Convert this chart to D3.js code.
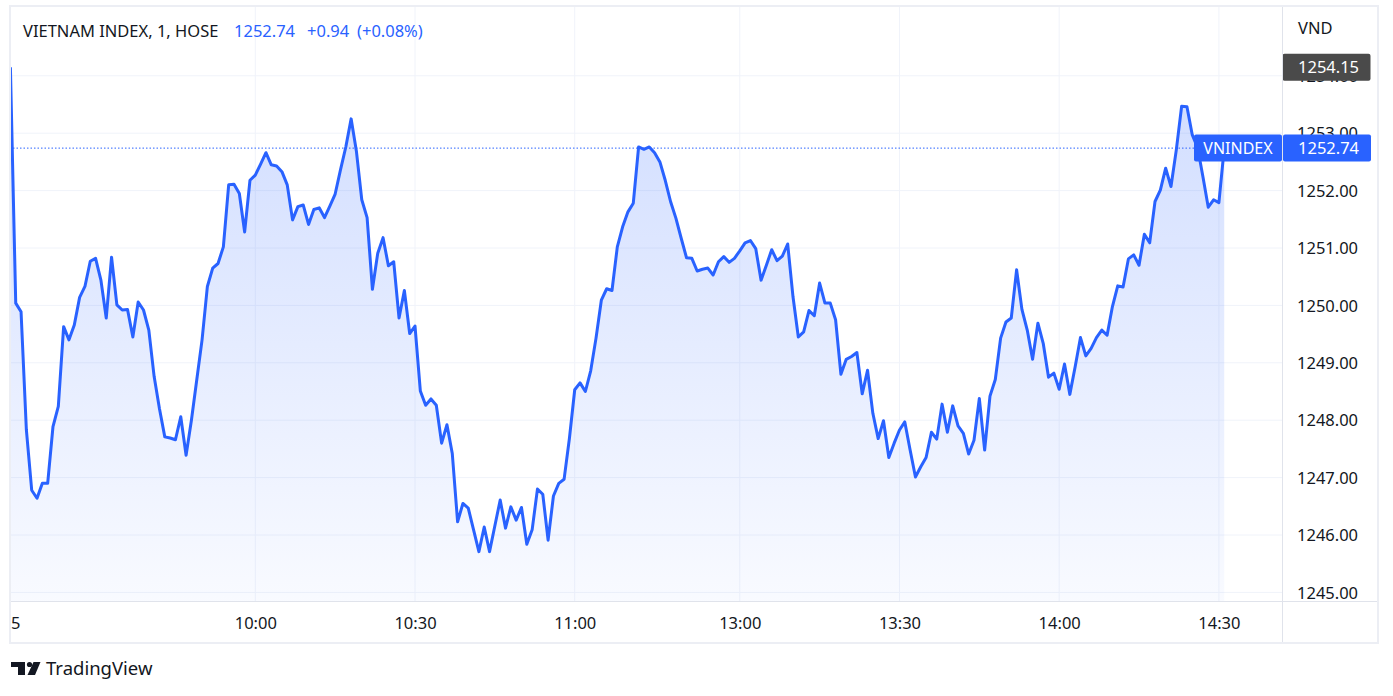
<!DOCTYPE html>
<html>
<head>
<meta charset="utf-8">
<script src="https://cdn.jsdelivr.net/npm/d3@7"></script>
<style>
  body { margin: 0; background: #fff; }
  svg text { font-family: "Noto Sans", Roboto, sans-serif; }
</style>
</head>
<body>
<div id="main"></div>
<script>
// one value per 1-minute bar, first bar is the session start
var values = [
  1254.15,
  1250.04, 1249.89, 1247.83, 1246.78, 1246.64, 1246.90, 1246.90, 1247.89, 1248.24, 1249.63,
  1249.40, 1249.66, 1250.14, 1250.33, 1250.77, 1250.82, 1250.44, 1249.78, 1250.84, 1250.01,
  1249.92, 1249.93, 1249.45, 1250.06, 1249.92, 1249.57, 1248.76, 1248.20, 1247.71, 1247.69,
  1247.66, 1248.06, 1247.39, 1248.00, 1248.70, 1249.40, 1250.33, 1250.65, 1250.73, 1251.02,
  1252.10, 1252.11, 1251.95, 1251.28, 1252.18, 1252.27, 1252.46, 1252.66, 1252.45, 1252.43,
  1252.33, 1252.10, 1251.49, 1251.72, 1251.75, 1251.41, 1251.67, 1251.70, 1251.53, 1251.73,
  1251.94, 1252.36, 1252.76, 1253.25, 1252.68, 1251.84, 1251.53, 1250.28, 1250.91, 1251.18,
  1250.69, 1250.76, 1249.78, 1250.26, 1249.51, 1249.64, 1248.51, 1248.26, 1248.37, 1248.26,
  1247.60, 1247.92, 1247.42, 1246.23, 1246.55, 1246.47, 1246.09, 1245.71, 1246.14, 1245.71,
  1246.16, 1246.61, 1246.12, 1246.49, 1246.26, 1246.48, 1245.84, 1246.09, 1246.80, 1246.71,
  1245.91, 1246.68, 1246.90, 1246.97, 1247.68, 1248.53, 1248.65, 1248.50, 1248.86, 1249.43,
  1250.09, 1250.29, 1250.26, 1251.02, 1251.37, 1251.63, 1251.78, 1252.76, 1252.72, 1252.76,
  1252.66, 1252.50, 1252.18, 1251.81, 1251.52, 1251.17, 1250.83, 1250.82, 1250.60, 1250.63,
  1250.65, 1250.53, 1250.76, 1250.85, 1250.75, 1250.82, 1250.95, 1251.09, 1251.13, 1250.99,
  1250.44, 1250.70, 1250.97, 1250.78, 1250.86, 1251.07, 1250.15, 1249.45, 1249.54, 1249.91,
  1249.82, 1250.39, 1250.04, 1250.04, 1249.75, 1248.80, 1249.06, 1249.11, 1249.18, 1248.46,
  1248.87, 1248.12, 1247.68, 1247.99, 1247.35, 1247.60, 1247.83, 1247.97, 1247.48, 1247.01,
  1247.19, 1247.35, 1247.79, 1247.67, 1248.28, 1247.79, 1248.25, 1247.90, 1247.77, 1247.41,
  1247.65, 1248.38, 1247.48, 1248.42, 1248.71, 1249.43, 1249.71, 1249.78, 1250.62, 1249.93,
  1249.57, 1249.06, 1249.69, 1249.34, 1248.75, 1248.82, 1248.54, 1248.98, 1248.45, 1248.93,
  1249.44, 1249.12, 1249.25, 1249.44, 1249.57, 1249.48, 1249.98, 1250.34, 1250.32, 1250.81,
  1250.88, 1250.70, 1251.24, 1251.09, 1251.81, 1252.01, 1252.39, 1252.07, 1252.71, 1253.47,
  1253.46, 1252.97, 1252.75, 1252.24, 1251.71, 1251.84, 1251.79, 1252.74
];

var tickBars = [0, 46, 76, 106, 137, 167, 197, 227];
var tickLabels = ["25", "10:00", "10:30", "11:00", "13:00", "13:30", "14:00", "14:30"];
var priceTicks = [1245, 1246, 1247, 1248, 1249, 1250, 1251, 1252, 1253, 1254];

var title = "VIETNAM INDEX, 1, HOSE";
var symbol = "VNINDEX";
var currency = "VND";
var lastPrice = 1252.74;
var change = "+0.94";
var changePct = "(+0.08%)";
var highPrice = 1254.15;

var width = 1393, height = 696;
var pane = { left: 10, right: 1282, top: 7, bottom: 601 };
var axisRight = 1378, axisBottom = 643;
var blue = "#2962ff", ink = "#131722", grid = "#f0f3fa", border = "#e0e3eb";
var fs = "16.5px";

var svg = d3.select("#main")
    .append("svg")
    .attr("width", width)
    .attr("height", height);

var x = d3.scaleLinear()
    .domain([tickBars[1], tickBars[7]])
    .range([255.3, 1218.9]);

var y = d3.scaleLinear()
    .domain([1245, 1254])
    .range([592.4, 75.8]);

var defs = svg.append("defs");
defs.append("clipPath").attr("id", "paneClip")
    .append("rect")
    .attr("x", pane.left).attr("y", pane.top)
    .attr("width", pane.right - pane.left).attr("height", pane.bottom - pane.top);

var grad = defs.append("linearGradient")
    .attr("id", "areaFill")
    .attr("gradientUnits", "userSpaceOnUse")
    .attr("x1", 0).attr("x2", 0)
    .attr("y1", y(d3.max(values))).attr("y2", pane.bottom);
grad.append("stop").attr("offset", 0).attr("stop-color", blue).attr("stop-opacity", 0.22);
grad.append("stop").attr("offset", 1).attr("stop-color", blue).attr("stop-opacity", 0.03);

// grid
var g = svg.append("g").attr("clip-path", "url(#paneClip)");
g.selectAll(".hgrid")
    .data(priceTicks)
    .enter().append("line")
    .attr("x1", pane.left).attr("x2", pane.right)
    .attr("y1", d => y(d)).attr("y2", d => y(d))
    .attr("stroke", grid).attr("stroke-width", 1);
g.selectAll(".vgrid")
    .data(tickBars)
    .enter().append("line")
    .attr("x1", d => x(d)).attr("x2", d => x(d))
    .attr("y1", pane.top).attr("y2", pane.bottom)
    .attr("stroke", grid).attr("stroke-width", 1);

// area + line
var area = d3.area()
    .x((d, i) => x(i))
    .y0(pane.bottom)
    .y1(d => y(d));
var line = d3.line()
    .x((d, i) => x(i))
    .y(d => y(d));

g.append("path")
    .datum(values)
    .attr("d", area)
    .attr("fill", "url(#areaFill)");

g.append("line")
    .attr("x1", pane.left + 3).attr("x2", pane.right)
    .attr("y1", y(lastPrice)).attr("y2", y(lastPrice))
    .attr("stroke", blue).attr("stroke-width", 1)
    .attr("stroke-dasharray", "1.5,2");

g.append("path")
    .datum(values)
    .attr("d", line)
    .attr("fill", "none")
    .attr("stroke", blue)
    .attr("stroke-width", 3)
    .attr("stroke-linejoin", "round");

// header
var head = svg.append("text")
    .attr("x", 23).attr("y", 31)
    .attr("dy", "0.35em")
    .style("font-size", fs);
head.append("tspan").attr("fill", ink).text(title);
head.append("tspan").attr("fill", blue).attr("x", 234).text(lastPrice.toFixed(2));
head.append("tspan").attr("fill", blue).attr("x", 307).text(change);
head.append("tspan").attr("fill", blue).attr("x", 357).text(changePct);

// time axis
var tAxis = svg.append("g")
    .attr("transform", "translate(0," + pane.bottom + ")")
    .attr("clip-path", "url(#timeClip)")
    .call(d3.axisBottom(x)
        .tickValues(tickBars)
        .tickFormat((d, i) => tickLabels[i])
        .tickSize(0));
defs.append("clipPath").attr("id", "timeClip")
    .append("rect")
    .attr("x", pane.left).attr("y", 0)
    .attr("width", pane.right - pane.left).attr("height", axisBottom - pane.bottom);
tAxis.select(".domain").remove();
tAxis.selectAll("text")
    .attr("y", 22).attr("dy", "0.35em")
    .attr("fill", ink)
    .style("font-size", fs)
    .style("font-family", null);

// price axis
var pAxis = svg.append("g")
    .attr("transform", "translate(" + pane.right + ",0)")
    .call(d3.axisRight(y)
        .tickValues(priceTicks)
        .tickFormat(d3.format(".2f"))
        .tickSize(0));
pAxis.select(".domain").remove();
pAxis.selectAll("text")
    .attr("x", 15).attr("dy", "0.35em")
    .attr("text-anchor", "start")
    .attr("fill", ink)
    .style("font-size", fs)
    .style("font-family", null);

svg.append("text")
    .attr("x", 1298).attr("y", 28)
    .attr("dy", "0.35em")
    .attr("fill", ink)
    .style("font-size", fs)
    .text(currency);

// high label
svg.append("rect")
    .attr("x", pane.right + 0.5).attr("y", y(highPrice) - 13.5)
    .attr("width", 88).attr("height", 27).attr("rx", 2)
    .attr("fill", "#4a4a4a");
svg.append("text")
    .attr("x", 1298).attr("y", y(highPrice))
    .attr("dy", "0.35em")
    .attr("fill", "#fff")
    .style("font-size", fs)
    .text(highPrice.toFixed(2));

// last price labels
var ly = y(lastPrice);
svg.append("rect")
    .attr("x", 1194).attr("y", ly - 13.5)
    .attr("width", pane.right - 1194).attr("height", 27).attr("rx", 2)
    .attr("fill", blue);
svg.append("text")
    .attr("x", 1238).attr("y", ly)
    .attr("dy", "0.35em")
    .attr("text-anchor", "middle")
    .attr("fill", "#fff")
    .style("font-size", "16px")
    .text(symbol);
svg.append("rect")
    .attr("x", pane.right + 1).attr("y", ly - 13.5)
    .attr("width", 88).attr("height", 27).attr("rx", 2)
    .attr("fill", blue);
svg.append("text")
    .attr("x", 1298).attr("y", ly)
    .attr("dy", "0.35em")
    .attr("fill", "#fff")
    .style("font-size", fs)
    .text(lastPrice.toFixed(2));

// frame
svg.append("line")
    .attr("x1", pane.right + 0.5).attr("x2", pane.right + 0.5)
    .attr("y1", pane.top).attr("y2", axisBottom)
    .attr("stroke", border);
svg.append("line")
    .attr("x1", pane.left).attr("x2", axisRight)
    .attr("y1", pane.bottom + 0.5).attr("y2", pane.bottom + 0.5)
    .attr("stroke", border);
svg.append("rect")
    .attr("x", pane.left).attr("y", pane.top - 1)
    .attr("width", axisRight - pane.left).attr("height", axisBottom - pane.top + 1)
    .attr("fill", "none")
    .attr("stroke", "#eceef4")
    .attr("stroke-width", 2);

// TradingView logo
var logo = svg.append("g").attr("fill", ink);
logo.append("path").attr("d", "M11,662 H25 V675 H18 V667 H11 Z");
logo.append("circle").attr("cx", 29.5).attr("cy", 664.5).attr("r", 2.6);
logo.append("path").attr("d", "M33.5,662 H40.5 L35,675 H27.5 Z");
svg.append("text")
    .attr("x", 46).attr("y", 669)
    .attr("dy", "0.35em")
    .attr("fill", ink)
    .style("font-size", "18.5px")
    .text("TradingView");
</script>
</body>
</html>
